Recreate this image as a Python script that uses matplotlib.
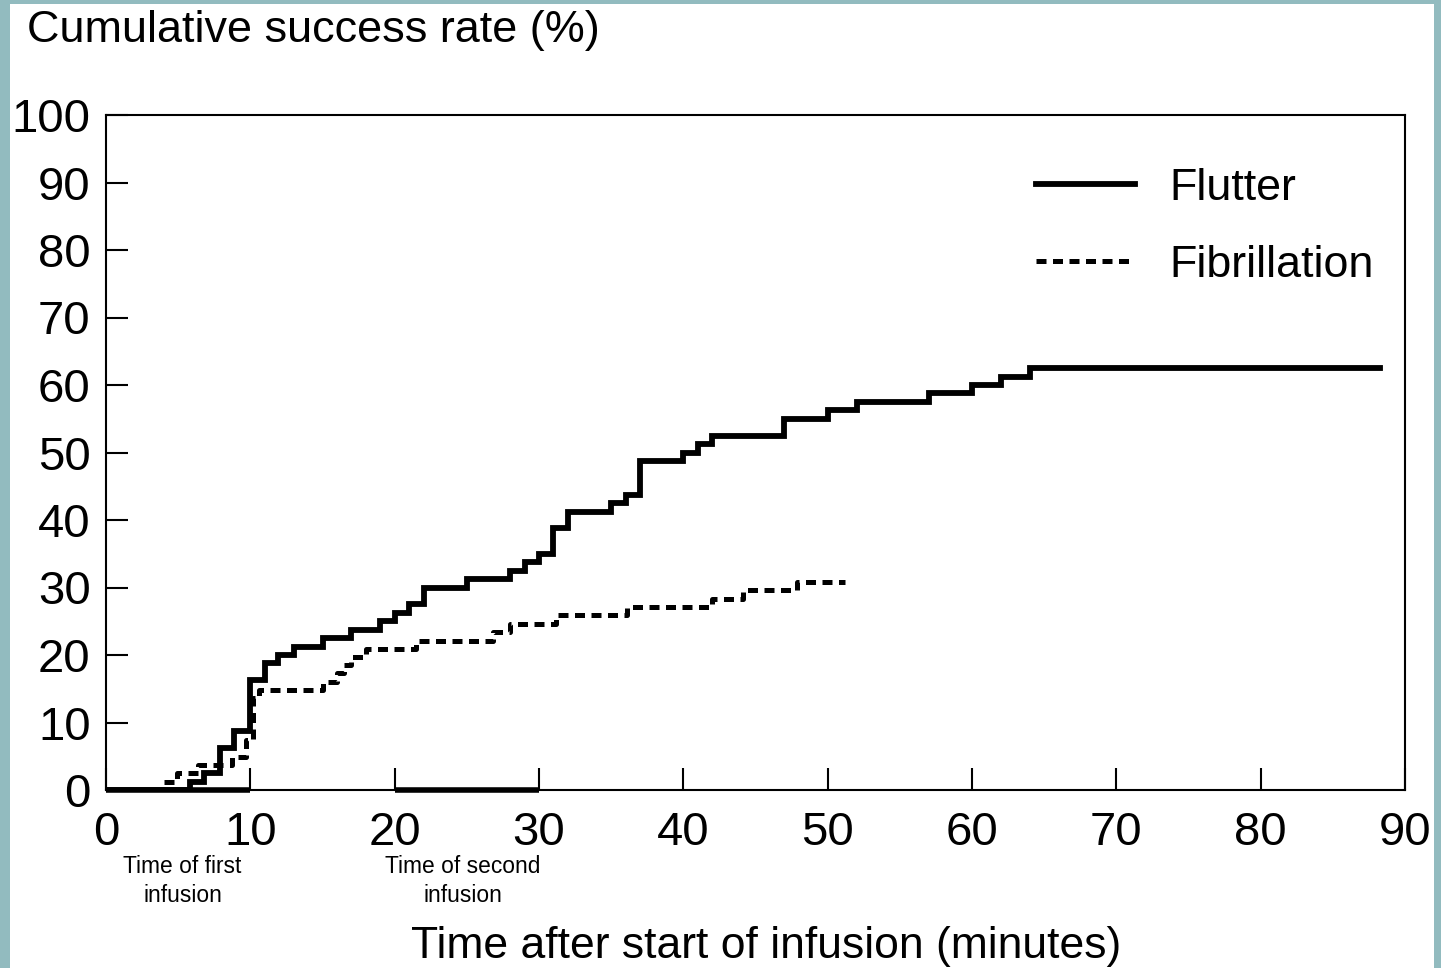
import matplotlib
matplotlib.use('Agg')
import matplotlib.pyplot as plt
from matplotlib.patches import Rectangle
import matplotlib.transforms as mtransforms

plt.rcParams['font.family'] = ['Liberation Sans', 'DejaVu Sans']

# Flutter: cumulative success rate (%) stepping up at each time (minutes)
flutter_t = [0, 5.8, 6.8, 7.9, 8.9, 10.0, 11.0, 11.9, 13.0, 15.0, 17.0, 19.0,
             20.0, 21.0, 22.0, 25.0, 28.0, 29.0, 30.0, 31.0, 32.0, 35.0, 36.0,
             37.0, 40.0, 41.0, 42.0, 47.0, 50.0, 52.0, 57.0, 60.0, 62.0, 64.0, 88.3]
flutter_y = [0, 1.25, 2.5, 6.25, 8.75, 16.25, 18.75, 20.0, 21.25, 22.5, 23.75, 25.0,
             26.25, 27.5, 30.0, 31.25, 32.5, 33.75, 35.0, 38.75, 41.25, 42.5, 43.75,
             48.75, 50.0, 51.25, 52.5, 55.0, 56.25, 57.5, 58.75, 60.0, 61.25, 62.5, 62.5]

# Fibrillation
fib_t = [0, 3.9, 4.9, 6.4, 8.7, 9.7, 10.2, 10.6, 15.0, 16.0, 16.5, 17.0, 18.0,
         21.5, 26.8, 28.0, 31.2, 36.1, 42.0, 44.1, 47.9, 51.2]
fib_y = [0, 1.2, 2.5, 3.7, 4.9, 7.4, 13.6, 14.8, 16.0, 17.3, 18.5, 19.7, 20.9,
         22.1, 23.4, 24.6, 25.9, 27.1, 28.3, 29.6, 30.8, 30.8]

# infusion periods (minutes)
infusions = [(0, 10), (20, 30)]
infusion_labels = ['Time of first\ninfusion', 'Time of second\ninfusion']
infusion_label_x = [5.3, 24.7]

xticks = list(range(0, 100, 10))
yticks = list(range(0, 110, 10))

fig = plt.figure(figsize=(14.41, 9.68), dpi=100)
fig.patch.set_facecolor('#92bbbf')
fig.patches.append(Rectangle((10 / 1441, 0), 1424 / 1441, 964 / 968,
                             transform=fig.transFigure, facecolor='white',
                             edgecolor='none', zorder=-10))

ax = fig.add_axes([106 / 1441, 1 - 790 / 968, 1299 / 1441, 675 / 968])
ax.set_facecolor('white')

ax.step(flutter_t, flutter_y, where='post', color='black', lw=4.2,
        solid_joinstyle='miter', label='Flutter', zorder=3)
ax.step(fib_t, fib_y, where='post', color='black', lw=3.6,
        linestyle=(0, (2.0, 1.3)), label='Fibrillation', zorder=3)

for (a, b) in infusions:
    ax.plot([a, b], [0, 0], color='black', lw=4, solid_capstyle='butt',
            clip_on=False, zorder=4)

ax.set_xlim(0, 90)
ax.set_ylim(0, 100)
ax.set_xticks(xticks)
ax.set_yticks(yticks)
ax.tick_params(direction='in', length=16, width=1.5, labelsize=34, pad=11)
ax.tick_params(axis='x', pad=15)
for s in ax.spines.values():
    s.set_linewidth(1.5)

trans = mtransforms.blended_transform_factory(ax.transData, ax.transAxes)
for lx, lab in zip(infusion_label_x, infusion_labels):
    ax.text(lx, -0.097, lab, transform=trans, ha='center', va='top',
            fontsize=16.4, linespacing=1.3)

fig.text(27 / 1441, 1 - 42 / 968, 'Cumulative success rate (%)', fontsize=32.4,
         ha='left', va='baseline')
fig.text(766 / 1441, 1 - 958 / 968, 'Time after start of infusion (minutes)',
         fontsize=32, ha='center', va='baseline')

leg = ax.legend(loc='upper left', bbox_to_anchor=(0.716, 0.922), frameon=False,
                fontsize=32.3, handlelength=2.2, handletextpad=0.78,
                labelspacing=0.8, borderpad=0, borderaxespad=0)

fig.savefig('out.png', dpi=100, facecolor=fig.get_facecolor())
